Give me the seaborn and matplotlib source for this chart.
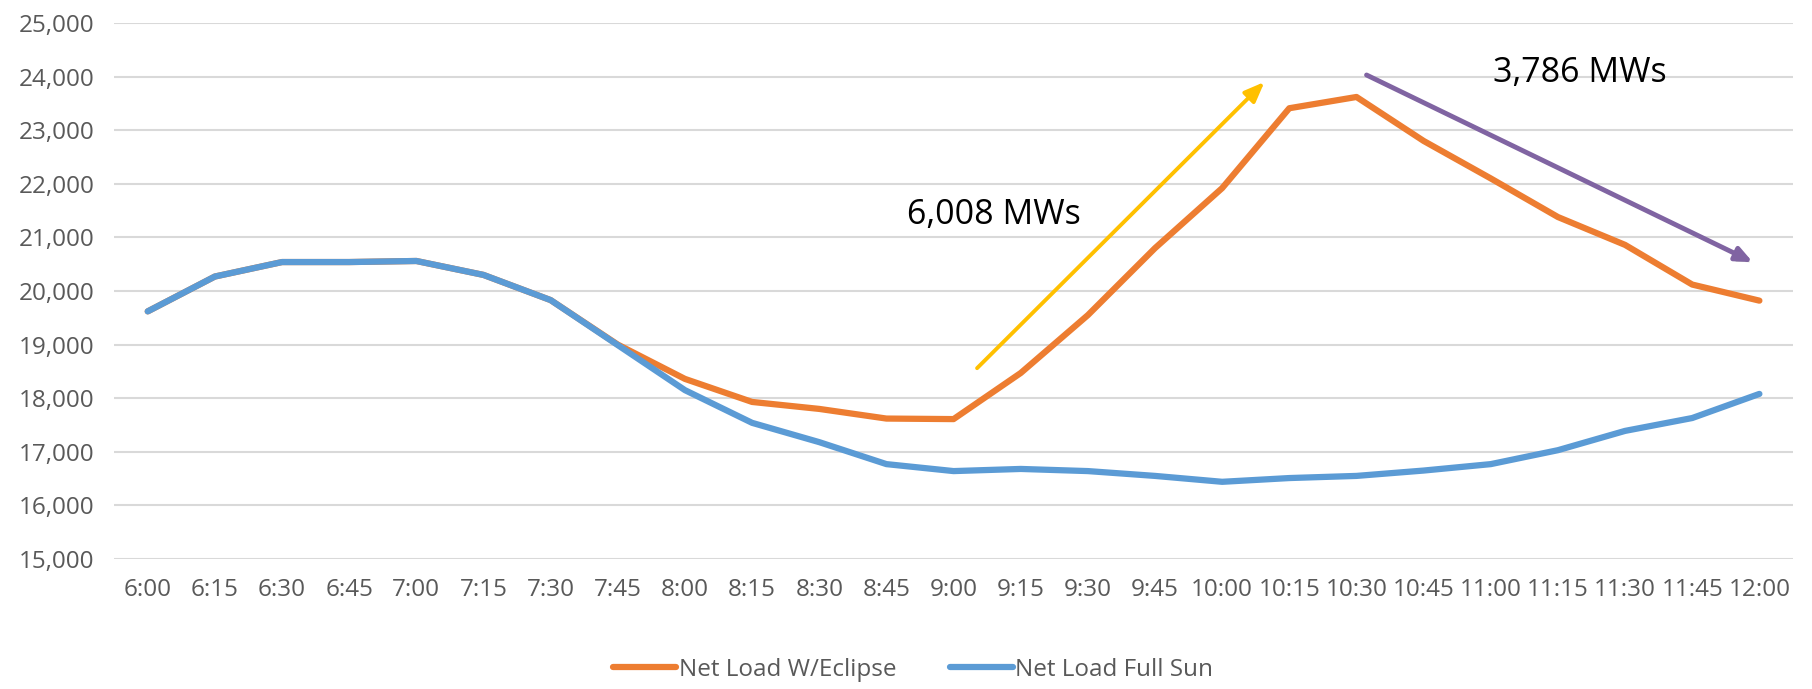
import matplotlib
matplotlib.use("Agg")
import pandas as pd
import matplotlib.pyplot as plt
import matplotlib.patheffects as pe
import seaborn as sns

times = ["6:00", "6:15", "6:30", "6:45", "7:00", "7:15", "7:30", "7:45",
         "8:00", "8:15", "8:30", "8:45", "9:00", "9:15", "9:30", "9:45",
         "10:00", "10:15", "10:30", "10:45", "11:00", "11:15", "11:30", "11:45", "12:00"]
eclipse = [19620, 20270, 20540, 20540, 20560, 20300, 19830, 19000,
           18360, 17930, 17800, 17620, 17610, 18470, 19550, 20800,
           21920, 23410, 23620, 22800, 22100, 21380, 20860, 20120, 19820]
full_sun = [19620, 20270, 20540, 20540, 20560, 20300, 19830, 18990,
            18150, 17540, 17180, 16770, 16640, 16680, 16640, 16550,
            16440, 16510, 16550, 16650, 16770, 17030, 17390, 17630, 18080]
series_names = ["Net Load W/Eclipse", "Net Load Full Sun"]

df = pd.concat([
    pd.DataFrame({"time": times, "load": eclipse, "series": series_names[0]}),
    pd.DataFrame({"time": times, "load": full_sun, "series": series_names[1]}),
])

sns.set_theme(style="white")
plt.rcParams['font.family'] = ['Open Sans', 'DejaVu Sans']

fig = plt.figure(figsize=(18.12, 6.89), dpi=100)
ax = fig.add_axes([0.063, 0.1887, 0.9265, 0.7779])

sns.lineplot(data=df, x="time", y="load", hue="series", sort=False,
             palette={series_names[0]: "#ED7D31", series_names[1]: "#5B9BD5"},
             linewidth=4.5, ax=ax, legend=True)
# blue drawn over orange where they overlap
ax.lines[1].set_zorder(3)
ax.lines[0].set_zorder(2)

ax.set_ylim(15000, 25000)
ax.set_xlim(-0.5, len(times) - 0.5)
ax.set_yticks(range(15000, 25001, 1000))
ax.set_yticklabels([f"{v:,}" for v in range(15000, 25001, 1000)])
ax.yaxis.grid(True, color="#D9D9D9", linewidth=1.5)
ax.set_axisbelow(True)
for s in ax.spines.values():
    s.set_visible(False)
ax.tick_params(axis="both", length=0, labelsize=17.5, labelcolor="#595959")
ax.tick_params(axis="x", pad=14)
ax.tick_params(axis="y", pad=14)
ax.set_xlabel("")
ax.set_ylabel("")

# annotations
ax.annotate("", xy=(16.63, 23900), xytext=(12.35, 18560),
            arrowprops=dict(arrowstyle="-|>,head_length=1.0,head_width=0.4",
                            color="#FFC000", lw=2.8, shrinkA=0, shrinkB=0), zorder=5)
purple = ax.annotate("", xy=(23.9, 20540), xytext=(18.15, 24030),
                     arrowprops=dict(arrowstyle="-|>,head_length=0.8,head_width=0.35",
                                     color="#8064A2", lw=3.5, shrinkA=0, shrinkB=0), zorder=5)
purple.arrow_patch.set_path_effects([pe.SimplePatchShadow(offset=(2, -2), alpha=0.3), pe.Normal()])
ax.text(11.3, 21420, "6,008 MWs", fontsize=24.5, color="black", va="center", ha="left")
ax.text(20.03, 24070, "3,786 MWs", fontsize=24.5, color="black", va="center", ha="left")

leg = ax.legend(loc="center", bbox_to_anchor=(0.504, 0.028), bbox_transform=fig.transFigure,
                ncol=2, frameon=False, fontsize=17.5, handlelength=2.6, handletextpad=0.1,
                columnspacing=2.2)
for t in leg.get_texts():
    t.set_color("#595959")
for h in leg.get_lines():
    h.set_linewidth(4.5)

fig.savefig("out.png", dpi=100)
